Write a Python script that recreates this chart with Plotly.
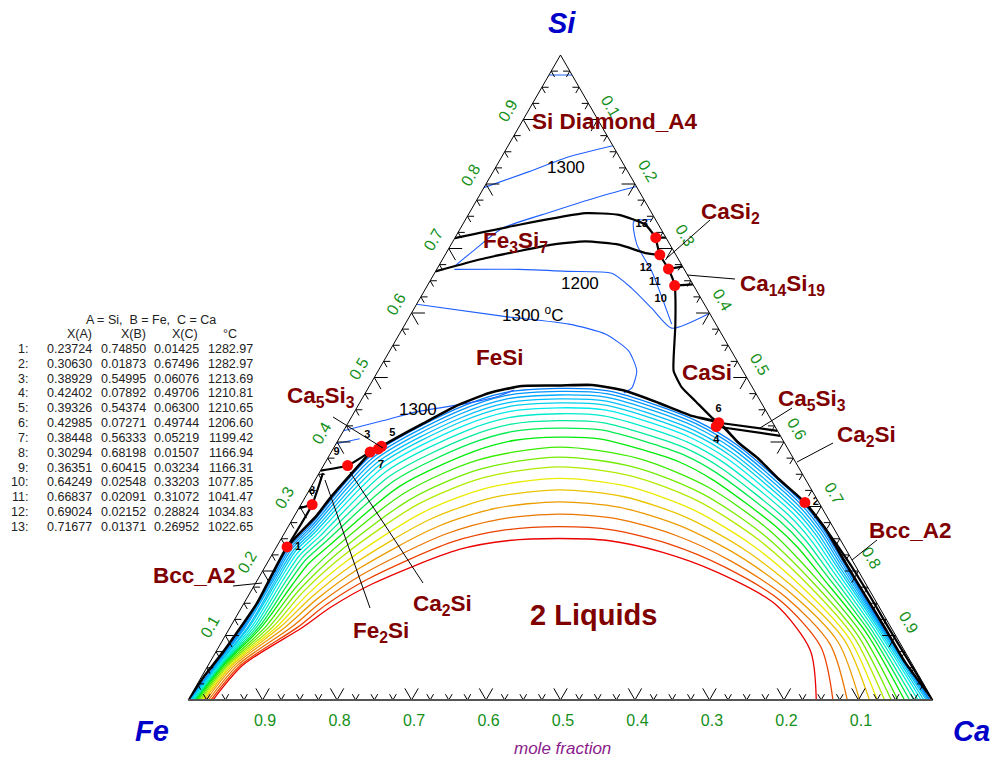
import plotly.graph_objects as go

# ---------------- data (mole fractions: Si = A, Fe = B, Ca = C) ----------------
inv_id = list(range(1, 14))
inv_si = [0.23724, 0.30630, 0.38929, 0.42402, 0.39326, 0.42985, 0.38448, 0.30294, 0.36351, 0.64249, 0.66837, 0.69024, 0.71677]
inv_fe = [0.74850, 0.01873, 0.54995, 0.07892, 0.54374, 0.07271, 0.56333, 0.68198, 0.60415, 0.02548, 0.02091, 0.02152, 0.01371]
inv_ca = [0.01425, 0.67496, 0.06076, 0.49706, 0.06300, 0.49744, 0.05219, 0.01507, 0.03234, 0.33203, 0.31072, 0.28824, 0.26952]
inv_t = [1282.97, 1282.97, 1213.69, 1210.81, 1210.65, 1206.60, 1199.42, 1166.94, 1166.31, 1077.85, 1041.47, 1034.83, 1022.65]
inv_textpos = ["middle right", "middle right", "top left", "bottom center", "top right", "top center", "bottom right",
               "top center", "top left", "bottom left", "bottom left", "bottom left", "top left"]

tick_major = [0.1, 0.2, 0.3, 0.4, 0.5, 0.6, 0.7, 0.8, 0.9]
tick_labels = ["0.1", "0.2", "0.3", "0.4", "0.5", "0.6", "0.7", "0.8", "0.9"]

# miscibility gap boundary (thick black)
dome_si = [0, .0386, .0742, .1499, .23724, .2859, .3122, .3478, .3818, .39326, .4065, .4281, .4560, .4760, .4869,
           .4876, .4884, .4791, .4606, .4405, .42985, .3988, .3740, .3431, .30630, .2658, .2133, .1623, .1113, .0587, 0]
dome_ca = [0, .0035, .0098, .0174, .01425, .0297, .0340, .0430, .0528, .06300, .0765, .1005, .1321, .1663, .2050,
           .2542, .2980, .3481, .4016, .4558, .49744, .5396, .5787, .6210, .67496, .7225, .7756, .8278, .8801, .9332, 1]

# isotherms inside the two-liquid region (outer blue -> inner red)
gap_si = [
    [0, .0541, .1143, .1938, .2358, .2688, .3789, .4520, .4766, .4831, .4794, .4565, .4321, .3955, .3040, .2642, .2121, .1105, 0],
    [0, .0541, .1143, .1928, .2343, .2669, .3760, .4478, .4720, .4784, .4747, .4523, .4282, .3921, .3018, .2625, .2108, .1102, 0],
    [0, .0541, .1143, .1916, .2326, .2649, .3726, .4430, .4666, .4729, .4693, .4474, .4236, .3882, .2993, .2605, .2093, .1098, 0],
    [0, .0541, .1142, .1903, .2306, .2625, .3687, .4376, .4606, .4668, .4633, .4418, .4185, .3838, .2965, .2583, .2076, .1093, 0],
    [0, .0541, .1142, .1889, .2287, .2601, .3648, .4322, .4546, .4606, .4572, .4363, .4133, .3794, .2937, .2560, .2059, .1087, 0],
    [0, .0541, .1141, .1873, .2263, .2572, .3601, .4255, .4472, .4530, .4497, .4295, .4070, .3739, .2902, .2533, .2038, .1079, 0],
    [0, .0541, .1140, .1853, .2233, .2537, .3543, .4174, .4381, .4438, .4406, .4211, .3993, .3673, .2860, .2499, .2013, .1069, 0],
    [0, .0541, .1140, .1830, .2200, .2496, .3476, .4080, .4277, .4331, .4301, .4115, .3904, .3597, .2811, .2461, .1984, .1057, 0],
    [0, .0541, .1139, .1805, .2163, .2452, .3404, .3977, .4164, .4215, .4187, .4011, .3807, .3513, .2758, .2419, .1952, .1045, 0],
    [0, .0541, .1138, .1775, .2119, .2398, .3316, .3854, .4027, .4075, .4049, .3885, .3690, .3413, .2695, .2368, .1914, .1030, 0],
    [0, .0541, .1138, .1742, .2339, .3220, .3719, .3920, .3746, .3302, .2624, .1871, .1011, 0],
    [0, .0541, .1137, .1709, .2280, .3123, .3583, .3766, .3608, .3192, .2554, .1829, .0991, 0],
    [0, .0541, .1136, .1676, .2222, .3028, .3450, .3614, .3471, .3083, .2485, .1788, .0972, 0],
    [0, .0541, .1135, .1638, .2154, .2917, .3293, .3436, .3311, .2956, .2404, .1739, .0951, 0],
    [0, .0541, .1134, .1600, .2086, .2806, .3137, .3258, .3151, .2828, .2322, .1690, .0928, 0],
    [0, .0541, .1133, .1560, .2015, .2690, .2974, .3073, .2985, .2696, .2238, .1640, .0899, 0],
    [0, .0541, .1131, .1519, .1942, .2570, .2805, .2881, .2812, .2558, .2150, .1587, .0863, 0],
    [0, .0541, .1130, .1477, .1868, .2450, .2636, .2689, .2639, .2420, .2063, .1534, .0821, 0],
    [0, .0541, .1128, .1437, .1798, .2334, .2473, .2504, .2473, .2288, .1978, .1484, .0773, 0],
]
gap_ca = [
    [.0013, .0093, .0171, .0171, .0167, .0279, .0565, .1355, .1869, .2564, .3245, .4023, .4679, .5393, .6744, .7212, .7744, .8782, .9964],
    [.0020, .0101, .0188, .0192, .0191, .0305, .0604, .1390, .1901, .2588, .3261, .4031, .4684, .5389, .6732, .7199, .7732, .8774, .9950],
    [.0027, .0109, .0205, .0216, .0220, .0336, .0648, .1430, .1937, .2615, .3279, .4039, .4689, .5385, .6717, .7184, .7718, .8765, .9933],
    [.0040, .0124, .0238, .0243, .0252, .0370, .0699, .1476, .1979, .2646, .3300, .4049, .4695, .5381, .6700, .7166, .7702, .8754, .9911],
    [.0047, .0132, .0255, .0270, .0284, .0404, .0750, .1521, .2020, .2677, .3320, .4059, .4701, .5377, .6684, .7149, .7686, .8737, .9879],
    [.0060, .0148, .0288, .0303, .0324, .0446, .0812, .1577, .2071, .2715, .3346, .4072, .4708, .5371, .6663, .7127, .7666, .8718, .9843],
    [.0074, .0163, .0322, .0344, .0373, .0498, .0888, .1646, .2133, .2761, .3377, .4087, .4717, .5365, .6639, .7101, .7642, .8694, .9800],
    [.0087, .0179, .0355, .0391, .0428, .0557, .0975, .1724, .2204, .2815, .3412, .4104, .4727, .5357, .6610, .7071, .7615, .8665, .9745],
    [.0101, .0194, .0389, .0442, .0489, .0621, .1071, .1810, .2282, .2873, .3451, .4123, .4738, .5349, .6579, .7038, .7585, .8634, .9687],
    [.0114, .0210, .0422, .0504, .0562, .0699, .1186, .1914, .2375, .2943, .3498, .4145, .4751, .5339, .6541, .6999, .7549, .8598, .9619],
    [.0134, .0233, .0473, .0572, .0785, .1312, .2028, .3020, .4170, .5328, .6500, .7509, .8551, .9530],
    [.0154, .0256, .0523, .0640, .0870, .1439, .2142, .3097, .4195, .5318, .6458, .7469, .8503, .9441],
    [.0174, .0280, .0573, .0707, .0955, .1563, .2254, .3173, .4220, .5307, .6417, .7430, .8456, .9352],
    [.0194, .0303, .0624, .0785, .1053, .1709, .2385, .3262, .4249, .5294, .6370, .7384, .8403, .9253],
    [.0214, .0326, .0674, .0863, .1152, .1855, .2517, .3351, .4277, .5282, .6322, .7338, .8348, .9149],
    [.0241, .0357, .0741, .0945, .1255, .2007, .2653, .3443, .4307, .5269, .6272, .7290, .8277, .9016],
    [.0275, .0396, .0825, .1030, .1362, .2165, .2795, .3539, .4338, .5255, .6221, .7240, .8189, .8850],
    [.0308, .0435, .0908, .1114, .1468, .2323, .2937, .3636, .4370, .5242, .6169, .7191, .8086, .8658],
    [.0335, .0466, .0975, .1196, .1571, .2474, .3074, .3728, .4399, .5229, .6119, .7143, .7967, .8434],
]
gap_hue = [210, 205, 200, 195, 187, 180, 172, 160, 140, 122, 105, 90, 75, 60, 50, 40, 30, 17, 0]

# other phase boundaries (thick black)
black_lines = {
    "fe3si7_top": ([.7161, .7368, .7547, .7522, .7368, .71677], [0, .0760, .1564, .2022, .2457, .26952]),
    "fe3si7_bottom": ([.6646, .6852, .7059, .7110, .7059, .6929, .69024], [0, .0573, .1361, .1782, .2254, .2676, .28824]),
    "casi_valley": ([.71677, .69024, .66837, .64249, .5822, .5306, .5100, .4842, .4637, .4379, .42985],
                    [.26952, .28824, .31072, .33203, .3631, .3866, .3969, .4210, .4491, .4843, .49744]),
    "tie13": ([.71677, .7168], [.26952, .2832]),
    "tie11": ([.66837, .672], [.31072, .328]),
    "tie10": ([.64249, .6445], [.33203, .3555]),
    "tie6": ([.42985, .4173], [.49744, .5827]),
    "tie4": ([.42402, .4096], [.49706, .5904]),
    "valley_1_8": ([.23724, .30294, .352], [.01425, .01507, .005]),
    "tie8": ([.30294, .297], [.01507, 0]),
    "valley_9_5": ([.3555, .36351, .38448, .38929, .39326], [0, .03234, .05219, .06076, .06300]),
    "bcc_right": ([.30630, .27, .213, .16, .111, .05, 0], [.67496, .718, .781, .836, .8855, .948, 1]),
}

# liquidus isotherms (thin blue)
blue_lines = [
    ([.969, .969], [0, .031]),
    ([.7944, .8192, .8423, .8594], [0, .0482, .0902, .1406]),
    ([.6723, .6955, .7315, .7573, .7832, .796], [.0213, .0342, .0563, .1104, .1689, .204]),
    ([.745, .7419, .7063, .6646, .5827], [.2500, .2274, .2493, .2902, .3579]),
    ([.6677, .6677, .6646, .6615, .6383, .6074, .5765, .5997], [.0236, .1106, .1791, .2382, .2766, .3188, .3610, .4003]),
    ([.6136, .5951, .5827, .5672, .5410, .5100, .4838, .4760], [0, .1241, .2200, .2773, .3212, .3474, .3538, .3470]),
    ([.4173, .4328, .4467, .4606, .4714, .4807], [0, .0446, .0832, .1472, .1820, .1974]),
    ([.3972, .405], [0, .0278]),
]

FONT = "Liberation Sans, Arial, Helvetica, sans-serif"
fig = go.Figure()


def fe_of(si, ca):
    return [max(0.0, 1 - s - c) for s, c in zip(si, ca)]


# isotherm fan
for si, ca, h in zip(gap_si, gap_ca, gap_hue):
    light = 50 if h >= 190 else 46
    fig.add_trace(go.Scatterternary(a=si, b=fe_of(si, ca), c=ca, mode="lines",
                                    line=dict(color=f"hsl({h},100%,{light}%)", width=1.3, shape="spline", smoothing=0.8),
                                    hoverinfo="skip"))

for si, ca in blue_lines:
    fig.add_trace(go.Scatterternary(a=si, b=fe_of(si, ca), c=ca, mode="lines",
                                    line=dict(color="#2060ff", width=1.1, shape="spline", smoothing=0.6),
                                    hoverinfo="skip"))

fig.add_trace(go.Scatterternary(a=dome_si, b=fe_of(dome_si, dome_ca), c=dome_ca, mode="lines",
                                line=dict(color="black", width=2.6, shape="spline", smoothing=0.5),
                                hoverinfo="skip"))
for name, (si, ca) in black_lines.items():
    fig.add_trace(go.Scatterternary(a=si, b=fe_of(si, ca), c=ca, mode="lines",
                                    line=dict(color="black", width=2.2, shape="spline", smoothing=0.5),
                                    hoverinfo="skip"))

# tick chevrons on the three edges
tick_minor = [round(i * 0.025, 3) for i in range(1, 40) if i % 4 != 0]


def chevrons(vals, L):
    A, B, C = [], [], []
    for t in vals:
        groups = [
            [(L, t, 1 - t - L), (0, t, 1 - t), (L, t - L, 1 - t)],          # bottom (Fe)
            [(t, 1 - t - L, L), (t, 1 - t, 0), (t - L, 1 - t, L)],          # left (Si)
            [(1 - t, L, t - L), (1 - t, 0, t), (1 - t - L, L, t)],          # right (Ca)
        ]
        for g in groups:
            for p in g:
                A.append(p[0]); B.append(p[1]); C.append(p[2])
            A.append(None); B.append(None); C.append(None)
    return A, B, C


for vals, L in ((tick_major, 0.018), (tick_minor, 0.009)):
    A, B, C = chevrons(vals, L)
    fig.add_trace(go.Scatterternary(a=A, b=B, c=C, mode="lines", line=dict(color="black", width=1),
                                    connectgaps=False, hoverinfo="skip"))

# invariant points
fig.add_trace(go.Scatterternary(a=inv_si, b=inv_fe, c=inv_ca, mode="markers+text",
                                marker=dict(color="#ff0a0a", size=11, line=dict(width=0)),
                                text=[f"<b>{i}</b>" for i in inv_id], textposition=inv_textpos,
                                textfont=dict(family=FONT, size=11, color="black"), hoverinfo="skip"))

axis_common = dict(showgrid=False, showline=True, tickvals=tick_major, ticktext=tick_labels,
                   ticks="outside", ticklen=5, tickcolor="rgba(0,0,0,0)",
                   tickfont=dict(family="Liberation Sans Narrow, Liberation Sans, Arial", size=16, color="#15901a"),
                   title=dict(text=""))
fig.update_layout(
    width=994, height=761, margin=dict(l=188, r=61, t=55, b=61),
    paper_bgcolor="white", showlegend=False, hovermode=False,
    ternary=dict(sum=1, bgcolor="white",
                 aaxis=dict(axis_common, tickangle=-60, linecolor="black", linewidth=1),
                 baxis=dict(axis_common, tickangle=0, linecolor="#555", linewidth=2),
                 caxis=dict(axis_common, tickangle=60, linecolor="black", linewidth=1)),
)


def P(px, py):
    return (px - 188) / 745, (700 - py) / 645


ann = []


def label(txt, px, py, size=22.5, color="#800000", bold=True, italic=False, family=FONT, xanchor="center"):
    x, y = P(px, py)
    t = txt
    if bold:
        t = f"<b>{t}</b>"
    if italic:
        t = f"<i>{t}</i>"
    ann.append(dict(x=x, y=y, xref="paper", yref="paper", text=t, showarrow=False, xanchor=xanchor, yanchor="middle",
                    font=dict(family=family, size=size, color=color)))


# vertex names
label("Si", 562, 23, size=29, color="#0000c8", italic=True)
label("Fe", 152, 731, size=29, color="#0000c8", italic=True)
label("Ca", 971, 731, size=29, color="#0000c8", italic=True)
label("mole fraction", 562, 748, size=17, color="#8b1a8b", bold=False, italic=True)

# phase labels
label("Si Diamond_A4", 615, 122)
label("CaSi<sub>2</sub>", 730, 213)
label("Ca<sub>14</sub>Si<sub>19</sub>", 782, 285)
label("Fe<sub>3</sub>Si<sub>7</sub>", 515, 242)
label("FeSi", 500, 357)
label("CaSi", 707, 372)
label("Ca<sub>5</sub>Si<sub>3</sub>", 321, 397)
label("Ca<sub>5</sub>Si<sub>3</sub>", 812, 400)
label("Ca<sub>2</sub>Si", 866, 436)
label("Ca<sub>2</sub>Si", 442, 605)
label("Bcc_A2", 194, 575)
label("Bcc_A2", 910, 530)
label("Fe<sub>2</sub>Si", 381, 632)
label("2 Liquids", 593, 615, size=29)

# isotherm values
label("1300", 566, 167, size=17, color="black", bold=False)
label("1200", 580, 283, size=17, color="black", bold=False)
label("1300 <sup>o</sup>C", 532, 314, size=17, color="black", bold=False)
label("1300", 418, 409, size=17, color="black", bold=False)

# table of invariant points
tf = dict(family=FONT, size=12.5, color="#222")


def cell(txt, px, py, anchor="right"):
    x, y = P(px, py)
    ann.append(dict(x=x, y=y, xref="paper", yref="paper", text=txt, showarrow=False, xanchor=anchor, yanchor="middle",
                    font=tf))


cell("A = Si,  B = Fe,  C = Ca", 151, 320, "center")
for txt, px in (("X(A)", 79), ("X(B)", 133), ("X(C)", 185), ("°C", 230)):
    cell(txt, px, 334, "center")
for i in range(13):
    py = 349 + i * 14.83
    cell(f"{inv_id[i]}:", 30, py)
    cell(f"{inv_si[i]:.5f}", 94, py)
    cell(f"{inv_fe[i]:.5f}", 148, py)
    cell(f"{inv_ca[i]:.5f}", 201, py)
    cell(f"{inv_t[i]:.2f}", 255, py)

# leader lines
leaders = [((710, 220), (667, 258)), ((735, 279), (687, 275)), ((792, 408), (760, 428)),
           ((833, 443), (797, 462)), ((877, 540), (852, 560)), ((333, 417), (383, 448)),
           ((423, 583), (350, 472)), ((370, 608), (325, 480)), ((233, 586), (262, 583))]
shapes = []
for (x0, y0), (x1, y1) in leaders:
    a0, b0 = P(x0, y0)
    a1, b1 = P(x1, y1)
    shapes.append(dict(type="line", xref="paper", yref="paper", x0=a0, y0=b0, x1=a1, y1=b1,
                       line=dict(color="black", width=1)))

fig.update_layout(annotations=ann, shapes=shapes)
# remove the browser's default 8 px body margin so the figure sits at the window's corner
fig.write_html("out.html", config={"displayModeBar": False},
               post_script="document.body.style.margin='0';document.body.style.overflow='hidden';")
